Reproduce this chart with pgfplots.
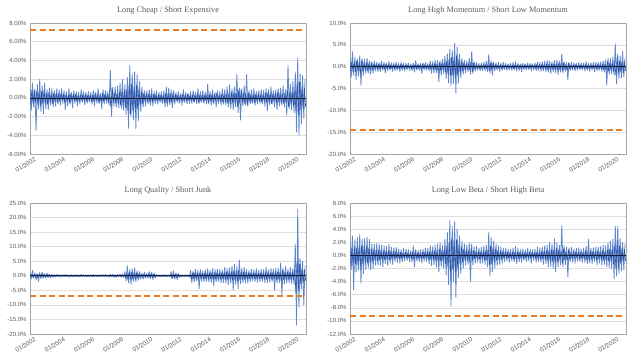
\documentclass[border=0pt]{standalone}
\usepackage{pgfplots}
\pgfplotsset{compat=1.18}
\usepackage{fontspec}
\setmainfont{Liberation Serif}
\newfontfamily\tickfont{Liberation Sans}
\definecolor{xlblue}{RGB}{95,135,205}
\definecolor{xlcore}{RGB}{45,85,165}
\definecolor{xlorange}{RGB}{230,125,40}
\definecolor{xlgrid}{RGB}{222,222,222}
\definecolor{xlaxis}{RGB}{165,165,165}
\definecolor{xltext}{RGB}{90,90,90}
\definecolor{navy}{RGB}{20,30,60}
\pgfplotsset{
  panel/.style={
    scale only axis, width=276pt, height=131pt,
    xmin=2002, xmax=2020.9,
    xtick={2002,2004,2006,2008,2010,2012,2014,2016,2018,2020},
    xticklabels={01/2002,01/2004,01/2006,01/2008,01/2010,01/2012,01/2014,01/2016,01/2018,01/2020},
    x tick label style={rotate=33, anchor=north east, font=\tickfont\fontsize{6.3}{7}\selectfont, text=xltext, inner sep=1pt, xshift=3pt, yshift=-3pt},
    y tick label style={font=\tickfont\fontsize{6}{7}\selectfont, text=xltext},
    ymajorgrids, grid style={xlgrid, line width=0.5pt},
    axis line style={xlaxis, line width=0.6pt},
    major tick length=0pt,
    title style={anchor=base, yshift=4.5pt, font=\fontsize{8.3}{9}\selectfont, text=xltext},
    clip=true,
  },
  noise/.style={xlblue, line width=0.8pt, line join=bevel},
  core/.style={xlcore, line width=0.6pt, line join=bevel},
  zero/.style={navy, line width=0.6pt},
  thresh/.style={xlorange, line width=2pt, dash pattern=on 6pt off 3.5pt},
}
\begin{document}
\begin{tikzpicture}
\useasboundingbox (0pt,0pt) rectangle (639pt,360pt);
% Panel 1
\begin{axis}[panel, at={(30pt,206pt)}, anchor=south west,
  title={Long Cheap / Short Expensive},
  ymin=-6, ymax=8, ytick={-6,-4,-2,0,2,4,6,8},
  yticklabels={-6.00\%,-4.00\%,-2.00\%,0.00\%,2.00\%,4.00\%,6.00\%,8.00\%}]
\addplot[noise] table[row sep=\\, header=false, x expr=2002+\coordindex/12, y index=0] {
1.2\\ -1.4\\ 1.6\\ -1.0\\ 0.9\\ -3.5\\ 1.5\\ -1.2\\ 2.0\\ -1.5\\ 1.3\\ -1.7\\
1.6\\ -1.2\\ 0.9\\ -1.3\\ 1.1\\ -0.8\\ 1.0\\ -1.0\\ 0.8\\ -0.9\\ 1.0\\ -0.7\\
0.9\\ -0.8\\ 1.0\\ -0.6\\ 0.8\\ -1.3\\ 0.7\\ -0.9\\ 1.0\\ -0.7\\ 0.6\\ -1.1\\
0.8\\ -0.6\\ 0.7\\ -0.9\\ 0.6\\ -0.7\\ 0.9\\ -0.5\\ 0.7\\ -0.8\\ 0.6\\ -0.6\\
0.7\\ -0.5\\ 0.6\\ -0.7\\ 0.8\\ -0.9\\ 0.6\\ -0.6\\ 1.0\\ -0.6\\ 0.5\\ -1.2\\
0.9\\ -0.7\\ 0.8\\ -0.6\\ 0.7\\ -0.8\\ 3.0\\ -2.0\\ 1.0\\ -0.9\\ 1.2\\ -1.0\\
1.3\\ -1.1\\ 1.6\\ -1.2\\ 2.0\\ -1.4\\ 1.4\\ -1.8\\ 2.2\\ -3.3\\ 3.5\\ -2.0\\
2.6\\ -2.4\\ 2.8\\ -3.3\\ 2.5\\ -2.5\\ 1.8\\ -1.5\\ 1.2\\ -1.0\\ 0.8\\ -0.9\\
0.8\\ -0.7\\ 0.9\\ -0.8\\ 1.0\\ -0.9\\ 0.7\\ -0.6\\ 0.8\\ -0.7\\ 0.6\\ -0.5\\
0.7\\ -0.6\\ 0.8\\ -1.0\\ 1.2\\ -0.9\\ 1.1\\ -0.8\\ 0.9\\ -1.1\\ 0.8\\ -0.7\\
0.6\\ -0.5\\ 0.7\\ -0.6\\ 0.5\\ -0.8\\ 0.9\\ -0.5\\ 0.6\\ -0.7\\ 0.5\\ -0.6\\
0.7\\ -0.6\\ 0.8\\ -0.5\\ 0.6\\ -0.7\\ 1.0\\ -0.6\\ 0.7\\ -0.5\\ 0.8\\ -0.6\\
0.6\\ -0.7\\ 1.5\\ -0.6\\ 0.7\\ -0.8\\ 0.9\\ -0.7\\ 0.6\\ -1.0\\ 0.8\\ -0.6\\
0.7\\ -0.8\\ 1.0\\ -0.7\\ 0.9\\ -0.8\\ 1.2\\ -1.0\\ 1.4\\ -1.2\\ 1.0\\ -1.3\\
1.2\\ -1.0\\ 2.5\\ -1.6\\ 1.1\\ -2.4\\ 1.0\\ -0.9\\ 1.3\\ -0.8\\ 2.5\\ -0.9\\
0.8\\ -0.7\\ 0.9\\ -0.6\\ 1.0\\ -0.8\\ 0.7\\ -0.7\\ 0.8\\ -0.6\\ 0.9\\ -0.7\\
0.8\\ -0.9\\ 1.0\\ -1.4\\ 0.9\\ -0.8\\ 1.2\\ -0.7\\ 0.8\\ -1.0\\ 0.9\\ -1.3\\
1.0\\ -0.9\\ 1.1\\ -0.8\\ 1.3\\ -1.0\\ 0.9\\ -1.9\\ 3.5\\ -1.2\\ 1.5\\ -1.3\\
1.8\\ -1.6\\ 2.8\\ -3.7\\ 4.3\\ -4.0\\ 2.6\\ -2.8\\ 2.4\\ -2.2\\ 2.0\\
};
\addplot[core] table[row sep=\\, header=false, x expr=2002.0417+\coordindex/12, y index=0] {
-0.7\\ 0.8\\ -0.6\\ 0.9\\ -0.5\\ 0.7\\ -0.8\\ 0.6\\ -0.9\\ 0.7\\ -0.6\\ 0.8\\
-0.6\\ 0.5\\ -0.7\\ 0.6\\ -0.5\\ 0.4\\ -0.6\\ 0.5\\ -0.4\\ 0.5\\ -0.5\\ 0.4\\
-0.4\\ 0.5\\ -0.3\\ 0.4\\ -0.5\\ 0.4\\ -0.4\\ 0.3\\ -0.5\\ 0.4\\ -0.3\\ 0.4\\
-0.3\\ 0.4\\ -0.4\\ 0.3\\ -0.4\\ 0.3\\ -0.3\\ 0.4\\ -0.3\\ 0.4\\ -0.4\\ 0.3\\
-0.3\\ 0.3\\ -0.4\\ 0.3\\ -0.4\\ 0.5\\ -0.3\\ 0.4\\ -0.5\\ 0.3\\ -0.4\\ 0.5\\
-0.4\\ 0.4\\ -0.3\\ 0.4\\ -0.5\\ 0.4\\ -1.0\\ 1.2\\ -0.5\\ 0.5\\ -0.6\\ 0.5\\
-0.7\\ 0.6\\ -0.8\\ 0.7\\ -0.9\\ 0.8\\ -1.0\\ 0.9\\ -1.4\\ 1.6\\ -1.8\\ 1.5\\
-1.4\\ 1.2\\ -1.5\\ 1.3\\ -1.2\\ 1.0\\ -0.8\\ 0.7\\ -0.6\\ 0.5\\ -0.4\\ 0.5\\
-0.4\\ 0.4\\ -0.5\\ 0.4\\ -0.5\\ 0.4\\ -0.3\\ 0.4\\ -0.4\\ 0.3\\ -0.3\\ 0.3\\
-0.4\\ 0.3\\ -0.5\\ 0.5\\ -0.6\\ 0.5\\ -0.5\\ 0.4\\ -0.5\\ 0.5\\ -0.4\\ 0.4\\
-0.3\\ 0.3\\ -0.4\\ 0.3\\ -0.3\\ 0.4\\ -0.4\\ 0.3\\ -0.3\\ 0.4\\ -0.3\\ 0.3\\
-0.4\\ 0.3\\ -0.4\\ 0.3\\ -0.3\\ 0.4\\ -0.5\\ 0.3\\ -0.4\\ 0.3\\ -0.4\\ 0.3\\
-0.3\\ 0.4\\ -0.6\\ 0.3\\ -0.4\\ 0.4\\ -0.5\\ 0.4\\ -0.3\\ 0.5\\ -0.4\\ 0.3\\
-0.4\\ 0.4\\ -0.5\\ 0.4\\ -0.5\\ 0.4\\ -0.6\\ 0.5\\ -0.7\\ 0.6\\ -0.5\\ 0.6\\
-0.6\\ 0.5\\ -0.9\\ 0.8\\ -0.6\\ 0.9\\ -0.5\\ 0.5\\ -0.6\\ 0.4\\ -0.8\\ 0.5\\
-0.4\\ 0.4\\ -0.5\\ 0.3\\ -0.5\\ 0.4\\ -0.4\\ 0.4\\ -0.4\\ 0.3\\ -0.5\\ 0.4\\
-0.4\\ 0.5\\ -0.5\\ 0.6\\ -0.5\\ 0.4\\ -0.6\\ 0.4\\ -0.4\\ 0.5\\ -0.5\\ 0.6\\
-0.5\\ 0.5\\ -0.6\\ 0.4\\ -0.6\\ 0.5\\ -0.5\\ 0.8\\ -1.0\\ 0.6\\ -0.7\\ 0.7\\
-0.9\\ 0.8\\ -1.4\\ 1.6\\ -1.8\\ 1.7\\ -1.3\\ 1.2\\ -1.2\\ 1.1\\ -1.0\\
};
\addplot[zero] coordinates {(2002,0) (2020.9,0)};
\addplot[thresh] coordinates {(2002,7.25) (2020.9,7.25)};
\end{axis}
% Panel 2
\begin{axis}[panel, at={(350pt,206pt)}, anchor=south west,
  title={Long High Momentum / Short Low Momentum},
  ymin=-20, ymax=10, ytick={-20,-15,-10,-5,0,5,10},
  yticklabels={-20.0\%,-15.0\%,-10.0\%,-5.0\%,0.0\%,5.0\%,10.0\%}]
\addplot[noise] table[row sep=\\, header=false, x expr=2002+\coordindex/12, y index=0] {
2.0\\ -2.5\\ 3.5\\ -2.0\\ 2.2\\ -3.0\\ 1.8\\ -2.2\\ 2.5\\ -4.3\\ 1.9\\ -2.0\\
1.8\\ -1.5\\ 2.0\\ -1.6\\ 1.4\\ -1.8\\ 1.2\\ -1.5\\ 1.3\\ -1.0\\ 1.1\\ -1.2\\
1.0\\ -1.2\\ 1.3\\ -0.9\\ 1.0\\ -1.5\\ 0.9\\ -1.0\\ 1.2\\ -0.8\\ 0.9\\ -1.1\\
0.9\\ -1.0\\ 1.1\\ -0.8\\ 0.8\\ -1.2\\ 1.0\\ -0.9\\ 0.8\\ -1.0\\ 0.9\\ -0.7\\
0.8\\ -0.9\\ 0.7\\ -1.0\\ 0.9\\ -1.3\\ 1.5\\ -0.8\\ 0.7\\ -0.9\\ 0.8\\ -1.6\\
0.9\\ -0.8\\ 1.0\\ -0.9\\ 0.8\\ -1.0\\ 1.4\\ -1.6\\ 1.2\\ -1.5\\ 1.6\\ -1.4\\
1.5\\ -3.5\\ 1.4\\ -2.0\\ 1.8\\ -1.6\\ 2.5\\ -2.8\\ 3.0\\ -3.8\\ 4.0\\ -4.5\\
3.8\\ -4.0\\ 5.4\\ -6.0\\ 4.5\\ -3.8\\ 3.0\\ -2.6\\ 2.0\\ -1.8\\ 1.5\\ -1.4\\
1.4\\ -1.2\\ 2.0\\ -1.8\\ 3.5\\ -1.6\\ 1.2\\ -1.0\\ 1.0\\ -0.9\\ 0.8\\ -1.0\\
0.9\\ -1.0\\ 1.1\\ -0.9\\ 1.3\\ -1.2\\ 2.8\\ -1.5\\ 1.4\\ -2.0\\ 1.1\\ -1.0\\
0.9\\ -0.8\\ 1.0\\ -1.1\\ 0.8\\ -0.9\\ 1.0\\ -0.7\\ 0.8\\ -0.9\\ 0.7\\ -0.8\\
0.8\\ -0.9\\ 1.0\\ -0.7\\ 1.2\\ -1.0\\ 0.8\\ -0.9\\ 0.7\\ -1.2\\ 0.8\\ -0.7\\
0.7\\ -0.8\\ 0.9\\ -0.7\\ 0.8\\ -1.0\\ 0.7\\ -0.8\\ 0.9\\ -1.0\\ 1.1\\ -0.9\\
1.0\\ -1.1\\ 1.2\\ -1.0\\ 1.3\\ -1.2\\ 1.5\\ -1.3\\ 1.4\\ -1.6\\ 1.2\\ -1.3\\
1.5\\ -1.4\\ 1.6\\ -1.8\\ 1.4\\ -1.3\\ 3.0\\ -1.5\\ 1.2\\ -1.1\\ 1.0\\ -3.0\\
1.0\\ -0.9\\ 1.1\\ -0.8\\ 0.9\\ -1.0\\ 0.8\\ -0.9\\ 1.0\\ -0.8\\ 0.9\\ -0.7\\
0.9\\ -1.0\\ 1.2\\ -0.9\\ 0.8\\ -1.1\\ 0.9\\ -0.8\\ 1.0\\ -1.2\\ 1.1\\ -1.0\\
1.0\\ -0.9\\ 1.2\\ -1.1\\ 1.4\\ -1.3\\ 1.6\\ -4.3\\ 2.0\\ -1.8\\ 1.9\\ -1.7\\
2.2\\ -2.0\\ 5.3\\ -4.0\\ 3.0\\ -2.8\\ 2.5\\ -2.6\\ 3.5\\ -2.4\\ 2.0\\
};
\addplot[core] table[row sep=\\, header=false, x expr=2002.0417+\coordindex/12, y index=0] {
-1.0\\ 1.2\\ -1.3\\ 1.0\\ -1.2\\ 1.4\\ -1.0\\ 1.1\\ -1.5\\ 1.4\\ -1.0\\ 1.0\\
-0.9\\ 0.8\\ -1.0\\ 0.8\\ -0.8\\ 0.9\\ -0.7\\ 0.7\\ -0.6\\ 0.6\\ -0.6\\ 0.6\\
-0.5\\ 0.6\\ -0.6\\ 0.5\\ -0.6\\ 0.6\\ -0.5\\ 0.5\\ -0.5\\ 0.4\\ -0.5\\ 0.5\\
-0.5\\ 0.5\\ -0.5\\ 0.4\\ -0.5\\ 0.5\\ -0.4\\ 0.5\\ -0.5\\ 0.4\\ -0.4\\ 0.4\\
-0.4\\ 0.4\\ -0.5\\ 0.4\\ -0.5\\ 0.6\\ -0.6\\ 0.4\\ -0.4\\ 0.5\\ -0.6\\ 0.6\\
-0.4\\ 0.5\\ -0.5\\ 0.4\\ -0.5\\ 0.5\\ -0.7\\ 0.7\\ -0.6\\ 0.7\\ -0.7\\ 0.7\\
-1.2\\ 1.0\\ -0.9\\ 0.9\\ -0.8\\ 0.9\\ -1.2\\ 1.3\\ -1.6\\ 1.8\\ -2.0\\ 2.2\\
-2.0\\ 2.2\\ -2.6\\ 2.5\\ -2.0\\ 1.8\\ -1.4\\ 1.2\\ -1.0\\ 0.9\\ -0.7\\ 0.7\\
-0.6\\ 0.7\\ -0.9\\ 1.0\\ -1.2\\ 0.8\\ -0.6\\ 0.5\\ -0.5\\ 0.4\\ -0.5\\ 0.4\\
-0.5\\ 0.5\\ -0.5\\ 0.5\\ -0.6\\ 0.6\\ -1.0\\ 0.8\\ -0.8\\ 0.9\\ -0.5\\ 0.5\\
-0.4\\ 0.4\\ -0.5\\ 0.5\\ -0.4\\ 0.4\\ -0.4\\ 0.4\\ -0.4\\ 0.4\\ -0.4\\ 0.4\\
-0.4\\ 0.4\\ -0.5\\ 0.4\\ -0.5\\ 0.5\\ -0.4\\ 0.4\\ -0.4\\ 0.5\\ -0.4\\ 0.4\\
-0.4\\ 0.4\\ -0.4\\ 0.4\\ -0.4\\ 0.5\\ -0.4\\ 0.4\\ -0.4\\ 0.5\\ -0.5\\ 0.5\\
-0.5\\ 0.5\\ -0.6\\ 0.5\\ -0.6\\ 0.6\\ -0.7\\ 0.6\\ -0.7\\ 0.7\\ -0.6\\ 0.6\\
-0.7\\ 0.7\\ -0.8\\ 0.8\\ -0.7\\ 0.6\\ -1.0\\ 0.8\\ -0.6\\ 0.5\\ -0.9\\ 0.8\\
-0.5\\ 0.4\\ -0.5\\ 0.4\\ -0.5\\ 0.5\\ -0.4\\ 0.4\\ -0.5\\ 0.4\\ -0.4\\ 0.4\\
-0.5\\ 0.5\\ -0.5\\ 0.4\\ -0.5\\ 0.5\\ -0.4\\ 0.4\\ -0.5\\ 0.5\\ -0.5\\ 0.5\\
-0.5\\ 0.5\\ -0.6\\ 0.5\\ -0.7\\ 0.6\\ -0.9\\ 1.2\\ -1.0\\ 0.9\\ -0.9\\ 0.9\\
-1.1\\ 1.0\\ -2.0\\ 2.2\\ -1.5\\ 1.3\\ -1.2\\ 1.2\\ -1.4\\ 1.2\\ -1.0\\
};
\addplot[zero] coordinates {(2002,0) (2020.9,0)};
\addplot[thresh] coordinates {(2002,-14.5) (2020.9,-14.5)};
\end{axis}
% Panel 3
\begin{axis}[panel, at={(30pt,26pt)}, anchor=south west,
  title={Long Quality / Short Junk},
  ymin=-20, ymax=25, ytick={-20,-15,-10,-5,0,5,10,15,20,25},
  yticklabels={-20.0\%,-15.0\%,-10.0\%,-5.0\%,0.0\%,5.0\%,10.0\%,15.0\%,20.0\%,25.0\%}]
\addplot[noise] table[row sep=\\, header=false, x expr=2002+\coordindex/12, y index=0] {
1.0\\ -1.2\\ 2.0\\ -0.9\\ 1.1\\ -1.4\\ 0.8\\ -2.0\\ 1.2\\ -1.0\\ 1.3\\ -0.9\\
0.8\\ -0.9\\ 1.0\\ -0.7\\ 0.6\\ -0.8\\ 0.5\\ -0.6\\ 0.4\\ -0.5\\ 0.5\\ -0.4\\
0.4\\ -0.5\\ 0.3\\ -0.4\\ 0.5\\ -0.3\\ 0.4\\ -0.4\\ 0.3\\ -0.5\\ 0.4\\ -0.3\\
0.3\\ -0.4\\ 0.4\\ -0.3\\ 0.3\\ -0.4\\ 0.5\\ -0.3\\ 0.4\\ -0.3\\ 0.3\\ -0.4\\
0.3\\ -0.3\\ 0.4\\ -0.4\\ 0.5\\ -0.3\\ 0.3\\ -0.4\\ 0.3\\ -0.3\\ 0.4\\ -0.3\\
0.4\\ -0.3\\ 0.5\\ -0.4\\ 0.3\\ -0.5\\ 0.6\\ -0.4\\ 0.5\\ -0.6\\ 0.4\\ -0.5\\
0.5\\ -0.4\\ 0.6\\ -0.5\\ 0.7\\ -0.6\\ 1.5\\ -1.8\\ 3.5\\ -2.5\\ 2.2\\ -3.0\\
2.5\\ -2.0\\ 2.8\\ -2.2\\ 1.8\\ -1.6\\ 1.5\\ -1.2\\ 1.0\\ -1.1\\ 1.2\\ -0.9\\
1.0\\ -0.9\\ 1.5\\ -1.0\\ 1.2\\ -1.3\\ 1.0\\ -0.8\\ 0.4\\ -0.3\\ 0.3\\ -0.4\\
0.3\\ -0.3\\ 0.4\\ -0.3\\ 0.3\\ -0.4\\ 0.3\\ -0.3\\ 1.5\\ -1.0\\ 1.8\\ -1.2\\
1.0\\ -1.4\\ 0.8\\ -0.6\\ 0.3\\ -0.4\\ 0.3\\ -0.3\\ 0.4\\ -0.3\\ 0.3\\ -0.4\\
2.0\\ -2.5\\ 1.8\\ -2.2\\ 2.4\\ -1.9\\ 2.0\\ -4.5\\ 2.2\\ -2.0\\ 1.8\\ -2.1\\
2.2\\ -2.0\\ 2.5\\ -2.2\\ 1.9\\ -2.4\\ 2.6\\ -3.5\\ 2.3\\ -2.2\\ 2.4\\ -2.0\\
2.3\\ -2.5\\ 2.0\\ -2.4\\ 3.0\\ -2.6\\ 2.5\\ -3.0\\ 2.8\\ -2.6\\ 3.5\\ -5.0\\
4.0\\ -3.0\\ 3.2\\ -4.5\\ 5.5\\ -2.8\\ 2.6\\ -2.5\\ 3.0\\ -2.4\\ 2.2\\ -2.6\\
2.0\\ -2.2\\ 2.4\\ -1.8\\ 2.1\\ -2.0\\ 2.5\\ -2.3\\ 1.9\\ -2.1\\ 2.3\\ -2.0\\
2.2\\ -2.4\\ 3.0\\ -2.5\\ 2.1\\ -2.3\\ 2.6\\ -2.0\\ 2.4\\ -5.0\\ 2.8\\ -2.5\\
2.6\\ -2.4\\ 4.5\\ -6.5\\ 2.5\\ -2.8\\ 3.2\\ -2.6\\ 2.4\\ -2.5\\ 3.0\\ -2.7\\
2.5\\ -3.0\\ 11.0\\ -17.0\\ 23.0\\ -11.0\\ 6.0\\ -4.5\\ 5.0\\ -10.0\\ 3.5\\
};
\addplot[core] table[row sep=\\, header=false, x expr=2002.0417+\coordindex/12, y index=0] {
-0.5\\ 0.6\\ -0.6\\ 0.5\\ -0.6\\ 0.5\\ -0.7\\ 0.6\\ -0.5\\ 0.6\\ -0.5\\ 0.5\\
-0.4\\ 0.4\\ -0.4\\ 0.4\\ -0.3\\ 0.3\\ -0.3\\ 0.3\\ -0.2\\ 0.2\\ -0.2\\ 0.2\\
-0.2\\ 0.2\\ -0.2\\ 0.2\\ -0.2\\ 0.2\\ -0.2\\ 0.2\\ -0.2\\ 0.2\\ -0.2\\ 0.2\\
-0.2\\ 0.2\\ -0.2\\ 0.2\\ -0.2\\ 0.2\\ -0.2\\ 0.2\\ -0.2\\ 0.2\\ -0.2\\ 0.2\\
-0.2\\ 0.2\\ -0.2\\ 0.2\\ -0.2\\ 0.2\\ -0.2\\ 0.2\\ -0.2\\ 0.2\\ -0.2\\ 0.2\\
-0.2\\ 0.2\\ -0.2\\ 0.2\\ -0.2\\ 0.3\\ -0.2\\ 0.3\\ -0.3\\ 0.2\\ -0.3\\ 0.2\\
-0.2\\ 0.3\\ -0.3\\ 0.3\\ -0.3\\ 0.3\\ -0.8\\ 0.9\\ -1.5\\ 1.4\\ -1.2\\ 1.3\\
-1.2\\ 1.1\\ -1.3\\ 1.1\\ -0.9\\ 0.8\\ -0.7\\ 0.6\\ -0.5\\ 0.6\\ -0.5\\ 0.5\\
-0.5\\ 0.6\\ -0.6\\ 0.6\\ -0.6\\ 0.6\\ -0.5\\ 0.4\\ -0.2\\ 0.2\\ -0.2\\ 0.2\\
-0.2\\ 0.2\\ -0.2\\ 0.2\\ -0.2\\ 0.2\\ -0.2\\ 0.2\\ -0.7\\ 0.6\\ -0.8\\ 0.7\\
-0.6\\ 0.6\\ -0.4\\ 0.3\\ -0.2\\ 0.2\\ -0.2\\ 0.2\\ -0.2\\ 0.2\\ -0.2\\ 0.2\\
-1.1\\ 1.0\\ -1.0\\ 1.2\\ -1.1\\ 1.0\\ -1.3\\ 1.1\\ -1.0\\ 1.0\\ -1.1\\ 1.0\\
-1.1\\ 1.0\\ -1.2\\ 1.1\\ -1.0\\ 1.2\\ -1.3\\ 1.2\\ -1.1\\ 1.1\\ -1.2\\ 1.0\\
-1.2\\ 1.1\\ -1.1\\ 1.2\\ -1.4\\ 1.3\\ -1.3\\ 1.4\\ -1.3\\ 1.3\\ -1.6\\ 1.8\\
-1.6\\ 1.5\\ -1.8\\ 1.9\\ -1.6\\ 1.4\\ -1.3\\ 1.3\\ -1.3\\ 1.2\\ -1.2\\ 1.1\\
-1.0\\ 1.1\\ -1.1\\ 1.0\\ -1.0\\ 1.1\\ -1.2\\ 1.1\\ -1.0\\ 1.0\\ -1.1\\ 1.0\\
-1.1\\ 1.1\\ -1.3\\ 1.2\\ -1.1\\ 1.1\\ -1.2\\ 1.1\\ -1.3\\ 1.4\\ -1.3\\ 1.2\\
-1.3\\ 1.2\\ -1.8\\ 1.9\\ -1.3\\ 1.4\\ -1.4\\ 1.3\\ -1.2\\ 1.2\\ -1.4\\ 1.3\\
-1.5\\ 2.0\\ -6.0\\ 5.0\\ -5.0\\ 4.0\\ -2.8\\ 2.5\\ -2.5\\ 2.2\\ -1.8\\
};
\addplot[zero] coordinates {(2002,0) (2020.9,0)};
\addplot[thresh] coordinates {(2002,-6.9) (2020.9,-6.9)};
\end{axis}
% Panel 4
\begin{axis}[panel, at={(350pt,26pt)}, anchor=south west,
  title={Long Low Beta / Short High Beta},
  ymin=-12, ymax=8, ytick={-12,-10,-8,-6,-4,-2,0,2,4,6,8},
  yticklabels={-12.0\%,-10.0\%,-8.0\%,-6.0\%,-4.0\%,-2.0\%,0.0\%,2.0\%,4.0\%,6.0\%,8.0\%}]
\addplot[noise] table[row sep=\\, header=false, x expr=2002+\coordindex/12, y index=0] {
2.5\\ -2.2\\ 3.0\\ -5.3\\ 2.4\\ -2.6\\ 2.8\\ -2.3\\ 3.3\\ -4.3\\ 2.5\\ -2.8\\
2.6\\ -2.2\\ 2.8\\ -2.0\\ 2.5\\ -2.3\\ 1.8\\ -2.0\\ 1.7\\ -1.5\\ 1.9\\ -1.6\\
1.8\\ -1.5\\ 1.6\\ -1.8\\ 1.5\\ -1.3\\ 1.4\\ -1.6\\ 1.7\\ -1.2\\ 1.3\\ -1.4\\
1.2\\ -1.0\\ 1.3\\ -1.1\\ 1.0\\ -1.2\\ 0.9\\ -1.0\\ 1.1\\ -0.9\\ 1.0\\ -0.8\\
0.9\\ -1.0\\ 0.8\\ -1.1\\ 1.5\\ -1.8\\ 1.0\\ -0.9\\ 0.8\\ -1.0\\ 0.9\\ -1.2\\
1.0\\ -0.9\\ 1.2\\ -1.0\\ 1.1\\ -1.3\\ 1.5\\ -1.6\\ 1.4\\ -1.5\\ 1.6\\ -1.8\\
1.8\\ -2.5\\ 2.0\\ -1.8\\ 1.6\\ -2.0\\ 2.5\\ -3.0\\ 3.5\\ -4.5\\ 5.4\\ -7.8\\
4.5\\ -4.0\\ 5.2\\ -6.4\\ 4.0\\ -3.5\\ 3.0\\ -2.8\\ 2.2\\ -2.0\\ 1.8\\ -1.5\\
1.6\\ -1.4\\ 2.0\\ -4.0\\ 1.8\\ -1.5\\ 1.3\\ -1.2\\ 1.4\\ -1.1\\ 1.2\\ -1.3\\
1.3\\ -1.2\\ 1.5\\ -1.4\\ 1.6\\ -1.8\\ 3.6\\ -3.2\\ 2.8\\ -2.5\\ 2.2\\ -2.0\\
1.8\\ -1.6\\ 1.5\\ -1.4\\ 1.3\\ -1.2\\ 1.1\\ -1.0\\ 1.2\\ -0.9\\ 1.0\\ -1.1\\
1.0\\ -0.9\\ 1.2\\ -1.0\\ 1.4\\ -1.3\\ 1.1\\ -1.0\\ 0.9\\ -1.1\\ 1.0\\ -0.8\\
0.9\\ -1.0\\ 1.1\\ -0.9\\ 1.0\\ -1.2\\ 0.9\\ -0.8\\ 1.0\\ -1.1\\ 1.3\\ -1.0\\
1.2\\ -1.1\\ 1.3\\ -1.4\\ 1.5\\ -1.3\\ 1.6\\ -1.8\\ 2.0\\ -1.7\\ 1.8\\ -2.0\\
2.6\\ -2.5\\ 2.0\\ -1.8\\ 1.6\\ -1.5\\ 4.6\\ -1.8\\ 1.5\\ -1.4\\ 1.3\\ -3.3\\
1.2\\ -1.0\\ 1.3\\ -1.1\\ 1.0\\ -1.2\\ 1.1\\ -0.9\\ 1.2\\ -1.0\\ 1.0\\ -1.1\\
1.2\\ -1.1\\ 1.4\\ -1.3\\ 2.5\\ -1.2\\ 1.1\\ -1.3\\ 1.2\\ -1.0\\ 1.3\\ -1.5\\
1.3\\ -1.2\\ 1.4\\ -1.5\\ 1.6\\ -1.4\\ 1.5\\ -1.8\\ 2.0\\ -1.9\\ 2.2\\ -2.0\\
2.5\\ -3.6\\ 4.5\\ -3.2\\ 4.5\\ -2.8\\ 2.6\\ -2.4\\ 2.0\\ -2.2\\ 1.8\\
};
\addplot[core] table[row sep=\\, header=false, x expr=2002.0417+\coordindex/12, y index=0] {
-1.3\\ 1.2\\ -1.6\\ 1.5\\ -1.3\\ 1.2\\ -1.4\\ 1.3\\ -1.6\\ 1.5\\ -1.3\\ 1.4\\
-1.2\\ 1.3\\ -1.2\\ 1.1\\ -1.2\\ 1.0\\ -0.9\\ 0.9\\ -0.8\\ 0.8\\ -0.9\\ 0.8\\
-0.8\\ 0.8\\ -0.8\\ 0.7\\ -0.7\\ 0.7\\ -0.7\\ 0.7\\ -0.7\\ 0.6\\ -0.6\\ 0.6\\
-0.5\\ 0.6\\ -0.5\\ 0.5\\ -0.5\\ 0.5\\ -0.5\\ 0.4\\ -0.5\\ 0.5\\ -0.4\\ 0.4\\
-0.5\\ 0.4\\ -0.5\\ 0.5\\ -0.7\\ 0.7\\ -0.5\\ 0.4\\ -0.5\\ 0.4\\ -0.5\\ 0.5\\
-0.5\\ 0.5\\ -0.5\\ 0.6\\ -0.6\\ 0.6\\ -0.7\\ 0.7\\ -0.7\\ 0.7\\ -0.8\\ 0.8\\
-1.0\\ 0.9\\ -0.9\\ 0.8\\ -0.9\\ 1.0\\ -1.3\\ 1.4\\ -1.8\\ 2.0\\ -2.5\\ 2.6\\
-2.2\\ 2.3\\ -2.6\\ 2.4\\ -1.9\\ 1.7\\ -1.4\\ 1.3\\ -1.0\\ 1.0\\ -0.8\\ 0.8\\
-0.8\\ 0.7\\ -1.0\\ 1.1\\ -0.8\\ 0.7\\ -0.6\\ 0.6\\ -0.6\\ 0.6\\ -0.6\\ 0.6\\
-0.6\\ 0.6\\ -0.7\\ 0.7\\ -0.8\\ 0.9\\ -1.5\\ 1.4\\ -1.3\\ 1.2\\ -1.0\\ 1.0\\
-0.8\\ 0.8\\ -0.7\\ 0.7\\ -0.6\\ 0.6\\ -0.5\\ 0.5\\ -0.5\\ 0.5\\ -0.5\\ 0.5\\
-0.5\\ 0.5\\ -0.6\\ 0.5\\ -0.6\\ 0.6\\ -0.5\\ 0.5\\ -0.5\\ 0.5\\ -0.5\\ 0.4\\
-0.5\\ 0.5\\ -0.5\\ 0.5\\ -0.5\\ 0.5\\ -0.4\\ 0.5\\ -0.5\\ 0.5\\ -0.6\\ 0.5\\
-0.6\\ 0.6\\ -0.6\\ 0.7\\ -0.7\\ 0.7\\ -0.8\\ 0.8\\ -0.9\\ 0.9\\ -0.9\\ 0.9\\
-1.2\\ 1.1\\ -0.9\\ 0.9\\ -0.8\\ 0.7\\ -1.2\\ 1.0\\ -0.7\\ 0.7\\ -0.8\\ 0.9\\
-0.6\\ 0.5\\ -0.6\\ 0.6\\ -0.5\\ 0.6\\ -0.5\\ 0.5\\ -0.6\\ 0.5\\ -0.5\\ 0.5\\
-0.6\\ 0.6\\ -0.7\\ 0.6\\ -0.9\\ 0.7\\ -0.6\\ 0.6\\ -0.6\\ 0.5\\ -0.7\\ 0.7\\
-0.6\\ 0.6\\ -0.7\\ 0.7\\ -0.8\\ 0.7\\ -0.8\\ 0.9\\ -0.9\\ 1.0\\ -1.0\\ 1.0\\
-1.3\\ 1.5\\ -2.0\\ 1.8\\ -2.0\\ 1.5\\ -1.3\\ 1.2\\ -1.0\\ 1.0\\ -0.9\\
};
\addplot[zero] coordinates {(2002,0) (2020.9,0)};
\addplot[thresh] coordinates {(2002,-9.3) (2020.9,-9.3)};
\end{axis}
\end{tikzpicture}
\end{document}
